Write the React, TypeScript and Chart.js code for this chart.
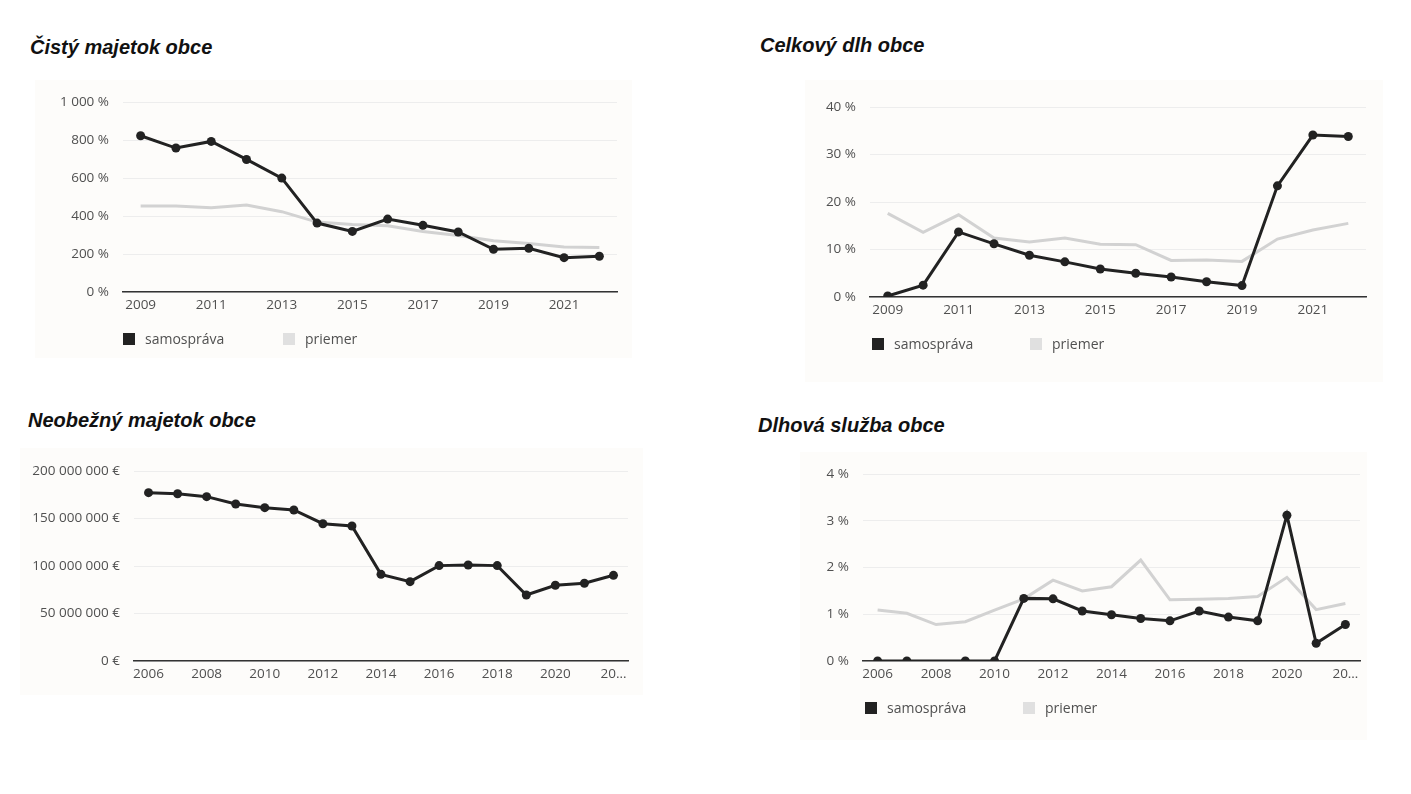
import React, { useEffect, useRef } from "react";
import { Chart, registerables } from "chart.js";

Chart.register(...registerables);

// ---------- data ----------
const yearsA = ["2009", "2010", "2011", "2012", "2013", "2014", "2015", "2016", "2017", "2018", "2019", "2020", "2021", "2022"];
const yearsB = ["2006", "2007", "2008", "2009", "2010", "2011", "2012", "2013", "2014", "2015", "2016", "2017", "2018", "2019", "2020", "2021", "2022"];

const cistySamosprava = [823, 758, 793, 698, 600, 363, 319, 384, 351, 316, 225, 230, 181, 188];
const cistyPriemer = [453, 453, 444, 458, 423, 368, 355, 349, 319, 298, 270, 255, 237, 234];

const dlhSamosprava = [0.2, 2.5, 13.7, 11.2, 8.8, 7.4, 5.9, 5.0, 4.2, 3.2, 2.4, 23.4, 34.1, 33.8];
const dlhPriemer = [17.6, 13.6, 17.3, 12.4, 11.6, 12.4, 11.1, 11.0, 7.7, 7.8, 7.5, 12.2, 14.1, 15.5];

const neobeznySamosprava = [
  177200000, 176100000, 173000000, 165300000, 161400000, 159000000, 144500000, 142100000,
  91200000, 83500000, 100400000, 101000000, 100400000, 69500000, 79700000, 81800000, 90200000,
];

const sluzbaSamosprava = [0, 0, null, 0, 0, 1.34, 1.33, 1.07, 0.99, 0.91, 0.86, 1.07, 0.94, 0.86, 3.12, 0.38, 0.78];
const sluzbaPriemer = [1.09, 1.02, 0.78, 0.84, 1.09, 1.33, 1.73, 1.5, 1.59, 2.16, 1.31, 1.32, 1.34, 1.38, 1.79, 1.1, 1.23];

const seriesNames = ["samospráva", "priemer"];
const titles = ["Čistý majetok obce", "Celkový dlh obce", "Neobežný majetok obce", "Dlhová služba obce"];

// ---------- styles ----------
const DARK = "#222222";
const LIGHT = "#d2d2d2";
const LIGHT_LEGEND = "#e0e0e0";
const PANEL_BG = "#fdfcfa";
const TICK_COLOR = "#505050";
const FONT = "'Open Sans', 'Noto Sans', sans-serif";

function groupThousands(v: number): string {
  const s = String(Math.round(Math.abs(v)));
  return (v < 0 ? "-" : "") + s.replace(/\B(?=(\d{3})+(?!\d))/g, " ");
}

const squareLegend = {
  id: "squareLegend",
  afterDraw(chart: any, _args: any, opts: any) {
    if (!opts || !opts.display) return;
    const { ctx, chartArea } = chart;
    const y = chartArea.bottom + opts.offsetY;
    chart.data.datasets.forEach((ds: any, i: number) => {
      const x = chartArea.left + opts.offsetX + i * opts.gap;
      ctx.save();
      ctx.fillStyle = ds.legendColor || ds.borderColor;
      ctx.fillRect(x, y - 6, 12, 12);
      ctx.fillStyle = TICK_COLOR;
      ctx.font = `14px ${FONT}`;
      ctx.textBaseline = "middle";
      ctx.textAlign = "left";
      ctx.fillText(ds.label, x + 22, y + 1);
      ctx.restore();
    });
  },
};

type PanelSpec = {
  title: string;
  titleLeft: number;
  titleTop: number;
  left: number;
  top: number;
  width: number;
  height: number;
  area: { left: number; right: number; top: number; bottom: number };
  labels: string[];
  datasets: any[];
  yMax: number;
  yStep: number;
  yFormat: (v: number) => string;
  lastLabel?: string;
  legend?: { offsetY: number; offsetX: number; gap: number };
};

function ChartPanel({ spec }: { spec: PanelSpec }) {
  const ref = useRef<HTMLCanvasElement | null>(null);
  useEffect(() => {
    if (!ref.current) return;
    const n = spec.labels.length;
    const chart = new Chart(ref.current, {
      type: "line",
      data: { labels: spec.labels, datasets: spec.datasets },
      plugins: [squareLegend],
      options: {
        animation: false,
        responsive: true,
        maintainAspectRatio: false,
        layout: {
          padding: { left: 0, right: spec.area.right, top: spec.area.top, bottom: 0 },
        },
        plugins: {
          legend: { display: false },
          tooltip: { enabled: false },
          title: { display: false },
          squareLegend: spec.legend ? { display: true, ...spec.legend } : { display: false },
        } as any,
        scales: {
          x: {
            offset: true,
            grid: { display: false, drawTicks: false },
            border: { display: true, color: "#333333", width: 1.5 },
            ticks: {
              autoSkip: false,
              maxRotation: 0,
              padding: 5,
              color: TICK_COLOR,
              font: { family: FONT, size: 13.5 },
              callback: (_v: any, i: number) => {
                if (i % 2 !== 0) return "";
                if (i === n - 1 && spec.lastLabel) return spec.lastLabel;
                return spec.labels[i];
              },
            },
            afterFit: (s: any) => {
              s.height = spec.area.bottom;
            },
          },
          y: {
            min: 0,
            max: spec.yMax,
            grid: { color: "#ededed", lineWidth: 1, drawTicks: false },
            border: { display: false },
            ticks: {
              stepSize: spec.yStep,
              padding: 14,
              color: TICK_COLOR,
              font: { family: FONT, size: 13.5 },
              callback: (v: any) => spec.yFormat(Number(v)),
            },
            afterFit: (s: any) => {
              s.width = spec.area.left;
            },
          },
        },
      } as any,
    });
    return () => chart.destroy();
  }, [spec]);

  return (
    <>
      <div
        style={{
          position: "absolute",
          left: spec.titleLeft,
          top: spec.titleTop,
          font: "italic bold 20px 'Liberation Sans', Arial, sans-serif",
          color: "#111",
          lineHeight: "24px",
          whiteSpace: "nowrap",
        }}
      >
        {spec.title}
      </div>
      <div
        style={{
          position: "absolute",
          left: spec.left,
          top: spec.top,
          width: spec.width,
          height: spec.height,
          background: PANEL_BG,
        }}
      >
        <canvas ref={ref} />
      </div>
    </>
  );
}

const samoStyle = {
  borderColor: DARK,
  backgroundColor: DARK,
  legendColor: DARK,
  borderWidth: 3,
  pointRadius: 4.5,
  pointBorderWidth: 0,
  pointBackgroundColor: DARK,
  tension: 0,
  spanGaps: true,
};
const priemerStyle = {
  borderColor: LIGHT,
  backgroundColor: LIGHT,
  legendColor: LIGHT_LEGEND,
  borderWidth: 3,
  pointRadius: 0,
  tension: 0,
};

const pct = (v: number) => `${groupThousands(v)} %`;
const eur = (v: number) => `${groupThousands(v)} €`;

const specs: PanelSpec[] = [
  {
    title: titles[0],
    titleLeft: 30,
    titleTop: 35,
    left: 35,
    top: 80,
    width: 597,
    height: 278,
    area: { left: 88, right: 15, top: 21, bottom: 66 },
    labels: yearsA,
    datasets: [
      { label: seriesNames[0], data: cistySamosprava, ...samoStyle },
      { label: seriesNames[1], data: cistyPriemer, ...priemerStyle },
    ],
    yMax: 1000,
    yStep: 200,
    yFormat: pct,
    legend: { offsetY: 47, offsetX: 0, gap: 160 },
  },
  {
    title: titles[1],
    titleLeft: 760,
    titleTop: 33,
    left: 805,
    top: 80,
    width: 578,
    height: 302,
    area: { left: 65, right: 17, top: 27, bottom: 85 },
    labels: yearsA,
    datasets: [
      { label: seriesNames[0], data: dlhSamosprava, ...samoStyle },
      { label: seriesNames[1], data: dlhPriemer, ...priemerStyle },
    ],
    yMax: 40,
    yStep: 10,
    yFormat: pct,
    legend: { offsetY: 47, offsetX: 2, gap: 158 },
  },
  {
    title: titles[2],
    titleLeft: 28,
    titleTop: 408,
    left: 20,
    top: 448,
    width: 623,
    height: 247,
    area: { left: 114, right: 15, top: 23, bottom: 34 },
    labels: yearsB,
    datasets: [{ label: seriesNames[0], data: neobeznySamosprava, ...samoStyle }],
    yMax: 200000000,
    yStep: 50000000,
    yFormat: eur,
    lastLabel: "20…",
  },
  {
    title: titles[3],
    titleLeft: 758,
    titleTop: 413,
    left: 800,
    top: 452,
    width: 567,
    height: 288,
    area: { left: 63, right: 7, top: 19, bottom: 79 },
    labels: yearsB,
    datasets: [
      { label: seriesNames[0], data: sluzbaSamosprava, ...samoStyle },
      { label: seriesNames[1], data: sluzbaPriemer, ...priemerStyle },
    ],
    yMax: 4,
    yStep: 1,
    yFormat: pct,
    lastLabel: "20…",
    legend: { offsetY: 47, offsetX: 2, gap: 158 },
  },
];

export default function App() {
  return (
    <div style={{ position: "absolute", left: 0, top: 0, width: 1411, height: 794, background: "#fff", overflow: "hidden" }}>
      {specs.map((s, i) => (
        <ChartPanel key={i} spec={s} />
      ))}
    </div>
  );
}
